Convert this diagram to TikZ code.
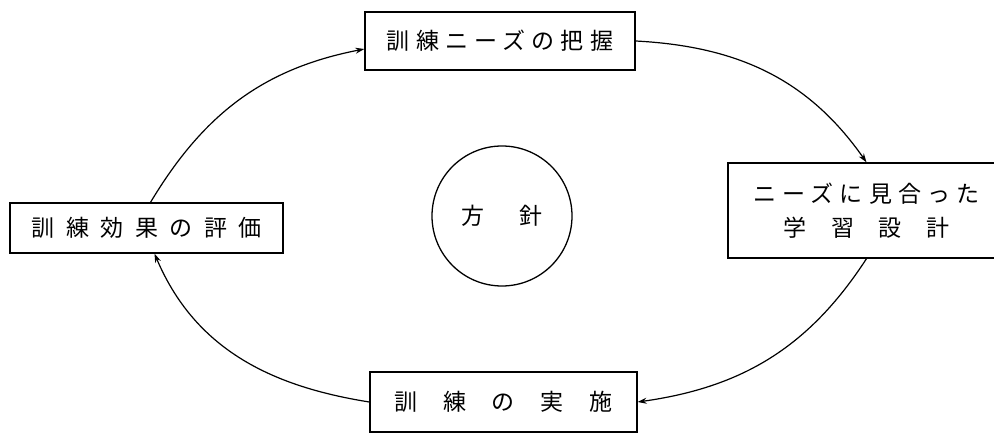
\documentclass[tikz,border=0pt]{standalone}
\usepackage{fontspec}
\newfontfamily\jp{Noto Sans CJK JP}
\usetikzlibrary{arrows.meta}
\newcommand\lsp[2]{{\addfontfeatures{LetterSpace=#1}#2}}
\begin{document}
\begin{tikzpicture}[x=1pt,y=1pt,
  box/.style={draw,line width=1.3pt,inner sep=0pt,font=\jp\fontsize{23}{34}\selectfont},
  circ/.style={draw,circle,line width=1.3pt,inner sep=0pt,minimum size=140pt,font=\jp\fontsize{23}{34}\selectfont},
  flow/.style={line width=1.2pt,-{Stealth[length=9pt,width=6pt]}}]
\clip (0,0) rectangle (994,-435);
\fill[white] (0,0) rectangle (994,-435);
\node[box,minimum width=270pt,minimum height=58pt] (top) at (500,-41) {\lsp{27}{訓練ニーズの把握}};
\node[box,minimum width=277pt,minimum height=95pt,align=center] (right) at (866.5,-210.5) {\lsp{27}{ニーズに見合った}\\\lsp{107}{学習設計}};
\node[box,minimum width=273pt,minimum height=50pt] (left) at (146.5,-228) {\lsp{50}{訓練効果の評価}};
\node[box,minimum width=267pt,minimum height=60pt] (bottom) at (503.5,-402) {\lsp{112}{訓練の実施}};
\node[circ] (center) at (502,-216) {\lsp{148}{方針}};
\draw[flow] (top.east) to[out=-3,in=125] (right.north);
\draw[flow] (right.south) to[out=-123,in=8] (bottom.east);
\draw[flow] (bottom.west) to[out=171,in=-67] ([xshift=8pt]left.south);
\draw[flow] ([xshift=4pt]left.north) to[out=59,in=-169] ([yshift=-8pt]top.west);
\end{tikzpicture}
\end{document}
